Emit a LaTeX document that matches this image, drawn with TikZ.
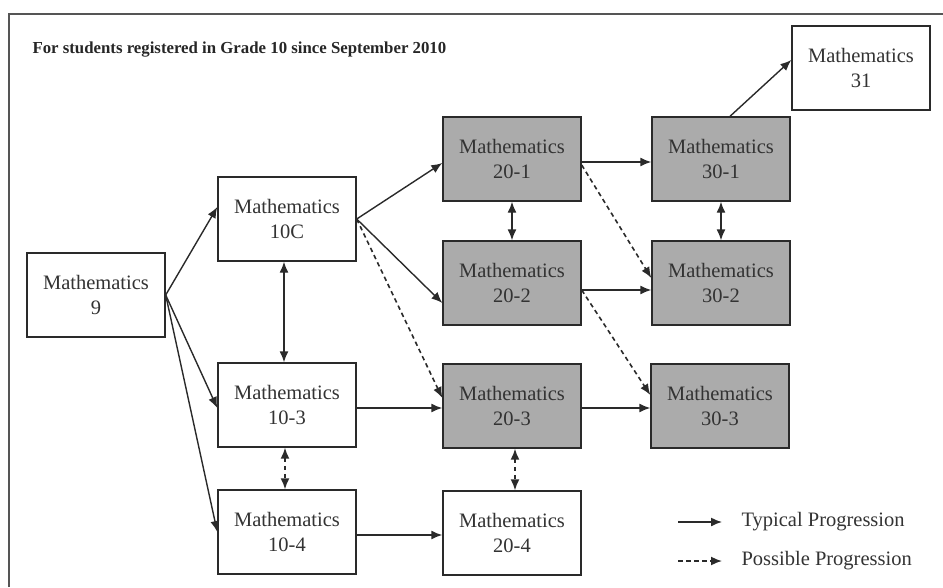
\documentclass[tikz,border=0pt]{standalone}
\usepackage{fontspec}
\setmainfont{Liberation Serif}
\usepackage{xcolor}
\definecolor{inkline}{HTML}{2A2A2A}
\definecolor{frameline}{HTML}{555555}
\definecolor{corefill}{HTML}{ABABAB}
\usepackage{tikz}
\usetikzlibrary{positioning,arrows.meta}

\begin{document}
\begin{tikzpicture}[x=1pt, y=-1pt,
                   mbox/.style={draw=inkline, line width=1.4pt, fill=white, minimum width=138pt,
                               minimum height=84pt, inner sep=0pt, align=center,
                               font=\fontsize{20.5}{25}\selectfont, text=black!80},
                   core/.style={mbox, fill=corefill},
                   typprog/.style={draw=inkline, line width=1.4pt, -{Latex[length=11pt,width=9pt]}},
                   posprog/.style={typprog, line width=1.6pt, dash pattern=on 4.5pt off 3.5pt},
                   twoway/.style={{Latex[length=11pt,width=9pt]}-{Latex[length=11pt,width=9pt]}},
                   legtext/.style={anchor=west, font=\fontsize{20.5}{22}\selectfont, text=black!80}]
    \useasboundingbox (0,0) rectangle (943,587);
    % frame and heading
    \draw[frameline, line width=2pt] (9,587) -- (9,14) -- (943,14);
    \node[anchor=base west, font=\fontsize{16.8}{18}\selectfont\bfseries, text=black!85] (title) at (29,53)
        {For students registered in Grade 10 since September 2010};
    % courses
    \node[mbox] (m9)   at (96,295)  {Mathematics\\9};
    \node[mbox] (m10c) at (287,219) {Mathematics\\10C};
    \node[mbox] (m103) at (287,405) {Mathematics\\10-3};
    \node[mbox] (m104) at (287,532) {Mathematics\\10-4};
    \node[core] (m201) at (512,159) {Mathematics\\20-1};
    \node[core] (m202) at (512,283) {Mathematics\\20-2};
    \node[core] (m203) at (512,406) {Mathematics\\20-3};
    \node[mbox] (m204) at (512,533) {Mathematics\\20-4};
    \node[core] (m301) at (721,159) {Mathematics\\30-1};
    \node[core] (m302) at (721,283) {Mathematics\\30-2};
    \node[core] (m303) at (720,406) {Mathematics\\30-3};
    \node[mbox] (m31)  at (861,68)  {Mathematics\\31};
    % progressions
    \draw[typprog] (m9.east) -- ([yshift=12pt]m10c.west);
    \draw[typprog] (m9.east) -- ([yshift=-3pt]m103.west);
    \draw[typprog] (m9.east) -- (m104.west);
    \draw[typprog] (m10c.east) -- ([yshift=-4pt]m201.west);
    \draw[typprog] (m10c.east) -- ([yshift=-20pt]m202.west);
    \draw[posprog] (m10c.east) -- ([yshift=8pt]m203.west);
    \draw[typprog, twoway] ([xshift=-3pt]m10c.south) -- ([xshift=-3pt]m103.north);
    \draw[posprog, twoway] ([xshift=-2pt]m103.south) -- ([xshift=-2pt]m104.north);
    \draw[typprog] ([yshift=-3pt]m103.east) -- ([yshift=-2pt]m203.west);
    \draw[typprog] ([yshift=-3pt]m104.east) -- ([yshift=-2pt]m204.west);
    \draw[posprog, twoway] ([xshift=3pt]m203.south) -- ([xshift=3pt]m204.north);
    \draw[typprog, twoway] (m201.south) -- (m202.north);
    \draw[typprog] ([yshift=-3pt]m201.east) -- ([yshift=-3pt]m301.west);
    \draw[posprog] ([yshift=-6pt]m201.east) -- ([yshift=5pt]m302.west);
    \draw[typprog] ([yshift=-7pt]m202.east) -- ([yshift=-7pt]m302.west);
    \draw[posprog] ([yshift=-7pt]m202.east) -- ([yshift=11pt]m303.west);
    \draw[typprog] ([yshift=-2pt]m203.east) -- ([yshift=-2pt]m303.west);
    \draw[typprog, twoway] (m301.south) -- (m302.north);
    \draw[typprog] ([xshift=9pt]m301.north) -- ([yshift=8pt]m31.west);
    % legend
    \coordinate (ta) at (678,522);
    \coordinate (tb) at (722,522);
    \coordinate (pa) at (678,561);
    \coordinate (pb) at (722,561);
    \node[legtext] (tlab) at (738,522) {Typical Progression};
    \node[legtext] (plab) at (738,561) {Possible Progression};
    \draw[typprog] (ta) -- (tb);
    \draw[posprog] (pa) -- (pb);
\end{tikzpicture}
\end{document}
